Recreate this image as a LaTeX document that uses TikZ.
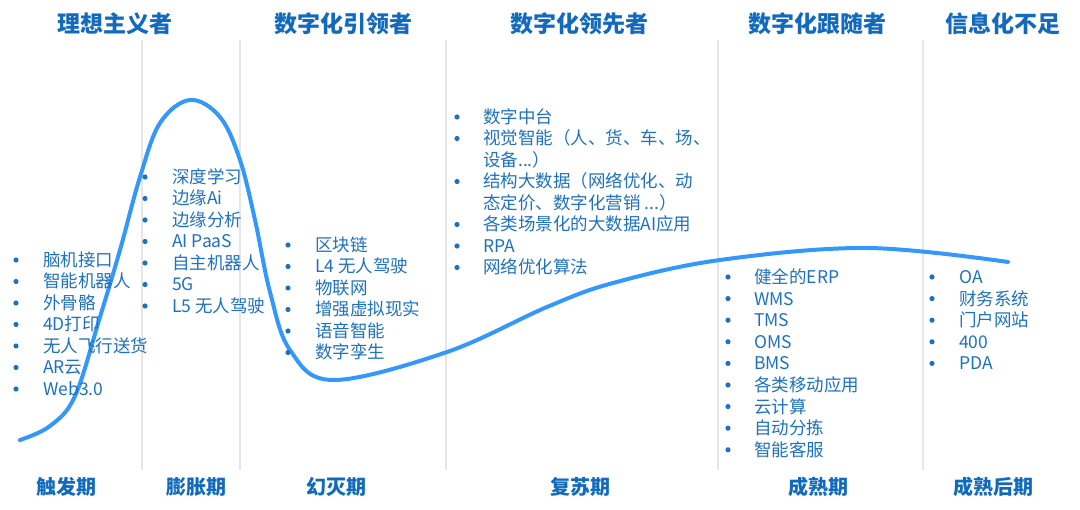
\documentclass[tikz,border=0pt]{standalone}
\usepackage{fontspec}
\newfontfamily\cjk{Noto Sans CJK SC}
\definecolor{titleblue}{RGB}{18,106,190}
\definecolor{itemblue}{RGB}{30,113,192}
\definecolor{curveblue}{RGB}{52,152,250}
\definecolor{sepgrey}{RGB}{230,230,230}
\newcommand\elp{...}

\begin{document}
\begin{tikzpicture}
[x=1pt,y=-1pt,every node/.style={inner sep=0pt},
 title/.style={font=\cjk\bfseries\fontsize{23}{27}\selectfont,text=titleblue},
 phase/.style={font=\cjk\bfseries\fontsize{20}{24}\selectfont,text=titleblue},
 item/.style={anchor=base west,font=\cjk\fontsize{17.5}{21}\selectfont,text=itemblue},
 bul/.style={circle,fill=itemblue,minimum size=5.2pt},
 sep/.style={draw=sepgrey,line width=2.5pt},
 curve/.style={draw=curveblue,line width=4pt,line cap=round}]
\useasboundingbox (0,0) rectangle (1080,510);
% separators
\foreach \x in {142,240,446,718,923}
  \draw[sep] (\x,40) -- (\x,470);
% titles
\node[title] (t1) at (115,24) {理想主义者};
\node[title] (t2) at (343,24) {数字化引领者};
\node[title] (t3) at (579,24) {数字化领先者};
\node[title] (t4) at (817,24) {数字化跟随者};
\node[title] (t5) at (1003,24) {信息化不足};
% hype curve
\draw[curve] plot[smooth,tension=0.6] coordinates {(20,440) (50,426) (75,396) (100,317)
  (120,250) (140,177) (160,123) (190,100) (220,117) (240,160) (255,220)
  (270,292) (290,350) (333,380) (447,352) (547,307)
  (613,283) (720,260) (867,248) (1008,262)};
% lists
\foreach \t [count=\i] in {脑机接口,智能机器人,外骨骼,4D打印,无人飞行送货,AR云,Web3.0}{
  \node[bul] (ba\i) at (16,{260+21.5*(\i-1)}) {};
  \node[item] (ia\i) at (43,{266.5+21.5*(\i-1)}) {\t};
}
\foreach \t [count=\i] in {深度学习,边缘Ai,边缘分析,AI PaaS,自主机器人,5G,L5 无人驾驶}{
  \node[bul] (bb\i) at (145,{177+21.5*(\i-1)}) {};
  \node[item] (ib\i) at (172,{183.5+21.5*(\i-1)}) {\t};
}
\foreach \t [count=\i] in {区块链,L4 无人驾驶,物联网,增强虚拟现实,语音智能,数字孪生}{
  \node[bul] (bc\i) at (288,{245+21.5*(\i-1)}) {};
  \node[item] (ic\i) at (315,{251.5+21.5*(\i-1)}) {\t};
}
\foreach \t/\b [count=\i] in {数字中台/1,视觉智能（人、货、车、场、/1,设备\elp）/0,
  结构大数据（网络优化、动/1,态定价、数字化营销 \elp）/0,各类场景化的大数据AI应用/1,
  RPA/1,网络优化算法/1}{
  \ifnum\b=1 \node[bul] (bd\i) at (457,{117+21.5*(\i-1)}) {}; \fi
  \node[item] (id\i) at (483,{123.5+21.5*(\i-1)}) {\t};
}
\foreach \t [count=\i] in {健全的ERP,WMS,TMS,OMS,BMS,各类移动应用,云计算,自动分拣,智能客服}{
  \node[bul] (be\i) at (728,{277+21.6*(\i-1)}) {};
  \node[item] (ie\i) at (754,{283.5+21.6*(\i-1)}) {\t};
}
\foreach \t [count=\i] in {OA,财务系统,门户网站,400,PDA}{
  \node[bul] (bf\i) at (932,{277+21.6*(\i-1)}) {};
  \node[item] (if\i) at (959,{283.5+21.6*(\i-1)}) {\t};
}
% phases
\node[phase] (p1) at (66,487) {触发期};
\node[phase] (p2) at (196,487) {膨胀期};
\node[phase] (p3) at (336,487) {幻灭期};
\node[phase] (p4) at (580,487) {复苏期};
\node[phase] (p5) at (818,487) {成熟期};
\node[phase] (p6) at (993,487) {成熟后期};
\end{tikzpicture}
\end{document}
